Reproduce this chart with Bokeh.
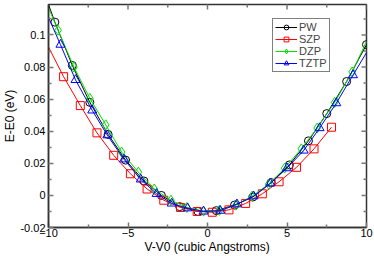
from bokeh.plotting import figure
from bokeh.models import Range1d, FixedTicker, Legend, LegendItem
from bokeh.embed import file_html
from bokeh.resources import INLINE

# ---- data ----
pw_x = [-9.6, -8.5, -7.4, -6.25, -5.15, -4.0, -2.9, -1.75, -0.6, 0.55, 1.7, 2.85, 4.0, 5.15, 6.35, 7.5, 8.75, 10.0]
pw_y = [0.108, 0.081, 0.058, 0.038, 0.022, 0.009, 0.000, -0.007, -0.010, -0.0095, -0.006, -0.001, 0.008, 0.019, 0.034, 0.051, 0.071, 0.094]
pw_line_x = [-10.0] + pw_x
pw_line_y = [0.119] + pw_y

szp_x = [-9.05, -8.0, -6.95, -5.9, -4.85, -3.8, -2.75, -1.7, -0.65, 0.3, 1.35, 2.4, 3.45, 4.5, 5.6, 6.7, 7.8]
szp_y = [0.074, 0.056, 0.039, 0.025, 0.0135, 0.004, -0.003, -0.0075, -0.010, -0.0105, -0.009, -0.005, 0.001, 0.0085, 0.0175, 0.029, 0.0425]
szp_line_x = [-10.0] + szp_x
szp_line_y = [0.0925] + szp_y

dzp_x = [-9.4, -8.4, -7.4, -6.4, -5.4, -4.35, -3.35, -2.3, -1.3, -0.25, 0.75, 1.8, 2.8, 3.85, 4.85, 5.9, 6.9, 8.0, 9.1]
dzp_y = [0.103, 0.080, 0.0605, 0.044, 0.027, 0.0145, 0.004, -0.003, -0.0075, -0.0098, -0.0093, -0.006, -0.0005, 0.007, 0.017, 0.029, 0.042, 0.058, 0.077]
dzp_line_x = [-10.0] + dzp_x + [10.0]
dzp_line_y = [0.117] + dzp_y + [0.096]

tztp_x = [-9.25, -8.3, -7.25, -6.3, -5.25, -4.2, -3.2, -2.25, -1.25, -0.25, 0.8, 1.85, 2.9, 3.95, 5.0, 6.05, 7.05, 8.1, 9.15]
tztp_y = [0.094, 0.072, 0.053, 0.0375, 0.0225, 0.010, 0.001, -0.005, -0.008, -0.010, -0.0095, -0.0055, -0.0005, 0.0075, 0.017, 0.028, 0.042, 0.0575, 0.075]
tztp_line_x = [-10.0] + tztp_x + [10.0]
tztp_line_y = [0.111] + tztp_y + [0.089]

x_ticks = [-10, -5, 0, 5, 10]
x_minor = [-7.5, -2.5, 2.5, 7.5]
y_ticks = [-0.02, 0, 0.02, 0.04, 0.06, 0.08, 0.1]
y_tick_labels = ["-0.02", "0", "0.02", "0.04", "0.06", "0.08", "0.1"]
y_minor = [-0.01, 0.01, 0.03, 0.05, 0.07, 0.09, 0.11]
x_title = "V-V0 (cubic Angstroms)"
y_title = "E-E0 (eV)"

X0, X1 = -10, 10
Y0, Y1 = -0.02, 0.119

FONT = "Liberation Sans"
AX = "#333333"
TICK = "#777777"

p = figure(width=374, height=256, output_backend="svg", toolbar_location=None,
           x_range=Range1d(X0, X1), y_range=Range1d(Y0, Y1),
           min_border_left=46, min_border_right=8, min_border_top=4, min_border_bottom=29)
p.grid.visible = False
p.outline_line_color = AX
p.outline_line_width = 1.5
p.background_fill_color = "white"
p.border_fill_color = "white"

for ax in (p.xaxis[0], p.yaxis[0]):
    ax.axis_line_color = AX
    ax.axis_line_width = 1.5
    ax.major_tick_in = 5
    ax.major_tick_out = 0
    ax.minor_tick_in = 3
    ax.minor_tick_out = 0
    ax.major_tick_line_color = TICK
    ax.minor_tick_line_color = TICK
    ax.major_tick_line_width = 1.5
    ax.minor_tick_line_width = 1.5
    ax.major_label_text_font = FONT
    ax.major_label_text_font_size = "11px"
    ax.major_label_text_color = "black"
    ax.axis_label_text_font = FONT
    ax.axis_label_text_font_size = "12px"
    ax.axis_label_text_font_style = "normal"
    ax.axis_label_text_color = "black"
    ax.axis_label_standoff = 0

p.xaxis.ticker = FixedTicker(ticks=x_ticks, minor_ticks=x_minor)
p.yaxis.ticker = FixedTicker(ticks=y_ticks, minor_ticks=y_minor)
p.yaxis.major_label_overrides = {t: l for t, l in zip(y_ticks, y_tick_labels)}
p.xaxis.axis_label = x_title
p.yaxis.axis_label = y_title
p.xaxis.major_label_standoff = 1
p.yaxis.major_label_standoff = 3

# mirrored inward ticks on the top and right edges (half of each rect is clipped by the frame)
p.rect(x=x_ticks, y=[Y1] * len(x_ticks), width=1.5, height=10, width_units="screen", height_units="screen",
       fill_color=TICK, line_color=None)
p.rect(x=x_minor, y=[Y1] * len(x_minor), width=1.5, height=6, width_units="screen", height_units="screen",
       fill_color=TICK, line_color=None)
p.rect(x=[X1] * len(y_ticks), y=y_ticks, width=10, height=1.5, width_units="screen", height_units="screen",
       fill_color=TICK, line_color=None)
p.rect(x=[X1] * len(y_minor), y=y_minor, width=6, height=1.5, width_units="screen", height_units="screen",
       fill_color=TICK, line_color=None)

series = [
    ("PW", pw_x, pw_y, pw_line_x, pw_line_y, "black", "circle", 8),
    ("SZP", szp_x, szp_y, szp_line_x, szp_line_y, "#ff0000", "square", 8),
    ("DZP", dzp_x, dzp_y, dzp_line_x, dzp_line_y, "#00dd00", "diamond", 10),
    ("TZTP", tztp_x, tztp_y, tztp_line_x, tztp_line_y, "#0000ff", "triangle", 9),
]

items = []
for name, xs, ys, lx, ly, col, mk, sz in series:
    l = p.line(lx, ly, line_color=col, line_width=1)
    m = p.scatter(xs, ys, marker=mk, size=sz, line_color=col, fill_color=None, line_width=1)
    items.append(LegendItem(label=name, renderers=[l, m]))

legend = Legend(items=items, location=(224, 155))
legend.label_text_font = FONT
legend.label_text_font_size = "11px"
legend.label_height = 12
legend.label_width = 10
legend.glyph_height = 12
legend.glyph_width = 22
legend.label_standoff = 2
legend.spacing = 0
legend.padding = 2
legend.margin = 0
legend.border_line_color = "black"
legend.border_line_width = 1
legend.background_fill_alpha = 1
p.add_layout(legend, "center")

open("out.html", "w").write(file_html(p, INLINE))
